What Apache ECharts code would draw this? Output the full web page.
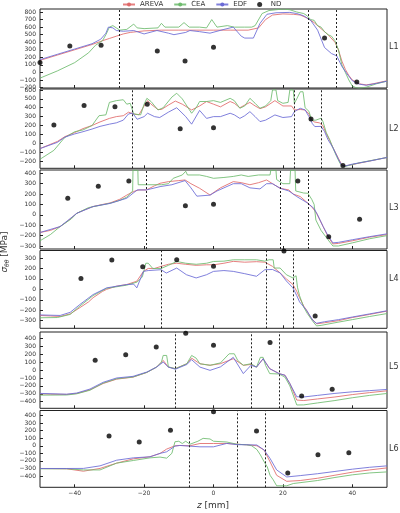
<!DOCTYPE html>
<html>
<head>
<meta charset="utf-8">
<script src="https://cdn.jsdelivr.net/npm/echarts@6/dist/echarts.min.js"></script>
<style>
html, body { margin: 0; padding: 0; background: #fff; }
#chart { width: 400px; height: 513px; }
</style>
</head>
<body>
<div id="chart"></div>
<script>
// z [mm] ticks shared by all panels
const Z_TICKS = [-40, -20, 0, 20, 40];

// ---- L1 ----
const L1_AREVA = [[-50,160],[-45,230],[-40,300],[-35,370],[-32,420],[-30,450],[-28,480],[-26,510],[-24,530],[-20,550],[-15,560],[-10,560],[-5,560],[0,560],[5,560],[10,560],[13,590],[15,700],[17,760],[20,775],[23,770],[25,760],[27,720],[29,660],[31,580],[33,500],[35,400],[36,300],[37,150],[38,40],[39,-40],[40,-100],[42,-150],[44,-165],[46,-150],[50,-110]];
const L1_CEA = [[-50,-75],[-45,20],[-40,130],[-36,260],[-34,360],[-32,420],[-31,500],[-30,600],[-29,620],[-28,590],[-27,560],[-25,570],[-23,640],[-22,590],[-20,580],[-16,590],[-15,650],[-14,600],[-10,600],[-8.5,660],[-7,600],[-4,600],[-2,590],[-0.5,700],[1,600],[4,620],[6,600],[9,600],[11,600],[12,620],[14,780],[16,820],[18,830],[20,840],[22,830],[24,800],[26,780],[27,750],[28,700],[29,690],[30,620],[31,600],[32,540],[33,500],[34,480],[35,420],[36,300],[37,100],[38,0],[39,-100],[40,-180],[41,-200],[42,-210],[44,-195],[47,-150],[50,-115]];
const L1_EDF = [[-50,170],[-45,240],[-40,310],[-35,380],[-32.5,440],[-31,520],[-30.3,600],[-29,590],[-28,555],[-26,545],[-23,555],[-20,510],[-16.3,555],[-13,520],[-11.4,500],[-8,530],[-6.8,555],[-4,540],[-1,520],[3,570],[5.7,600],[8,480],[9,455],[11.5,455],[13.4,650],[15.4,770],[18,790],[22,795],[24,780],[26,750],[28,690],[30,560],[32,330],[34,250],[35.5,220],[37,80],[38.5,-20],[40,-110],[42,-155],[44,-170],[47,-145],[50,-115]];
const L1_ND = [[-50,130],[-41.4,350],[-32.4,360],[-16.2,283],[-8.2,150],[0,335],[32,455],[41.3,-125]];
const L1_MARKS = [-27.3, 27.3, 35.3];
const L1_TICKS = [-200, -100, 0, 100, 200, 300, 400, 500, 600, 700, 800];

// ---- L2 ----
const L2_AREVA = [[-50,-60],[-45,20],[-42.8,75],[-40,120],[-37.6,165],[-35,200],[-32.7,240],[-30,280],[-28,300],[-26,310],[-24.5,350],[-23,330],[-21.5,320],[-20,420],[-19,480],[-18,440],[-16,380],[-15,380],[-13,430],[-11,475],[-9,440],[-6.3,375],[-4,420],[-2,470],[0,440],[2,410],[4.8,470],[6,450],[7.6,400],[9,430],[10.5,460],[12,420],[13.4,390],[15,410],[17.7,480],[20,420],[22.5,420],[23.3,375],[25,380],[26.4,375],[27.5,330],[28,280],[29,240],[30.5,230],[31.5,200],[32.5,110],[33.5,30],[34.5,-55],[36,-170],[37,-245],[38,-255],[40,-240],[45,-200],[50,-160]];
const L2_CEA = [[-50,-180],[-46,-80],[-43,60],[-40,130],[-37.6,150],[-35,200],[-33,310],[-31,320],[-30,460],[-28,480],[-26,490],[-25,440],[-24,450],[-23,330],[-21,320],[-20,440],[-19.2,506],[-18,470],[-16,375],[-14.5,400],[-12,520],[-10.6,563],[-9,500],[-7,380],[-6.3,338],[-5,400],[-4,470],[-2,470],[0,480],[2,460],[4.8,506],[6,480],[7.6,394],[9,420],[10.5,506],[12,450],[13.4,394],[15,420],[16.5,480],[17,600],[18,600],[18.5,480],[20,450],[21.5,460],[22,600],[23,600],[23.3,450],[24,500],[25,580],[25.8,580],[26.4,400],[27.5,360],[28.3,260],[29.5,260],[31,282],[31.5,250],[32.5,120],[33.5,40],[34.5,-60],[35.5,-150],[36.5,-230],[37.5,-265],[39,-250],[42,-220],[46,-190],[50,-160]];
const L2_EDF = [[-50,-60],[-45,10],[-42.8,70],[-40,105],[-37.6,130],[-35,160],[-32.7,190],[-30,215],[-28,230],[-26,260],[-24.5,330],[-23.3,340],[-22,270],[-20,300],[-19,338],[-17,300],[-15.5,290],[-13,350],[-10.6,400],[-8,300],[-6.3,215],[-4,370],[-2,280],[0,300],[2,300],[4.8,338],[6,320],[7.6,280],[9,310],[10.5,356],[12,300],[13.4,244],[15,260],[17.7,319],[20,290],[22.5,300],[23.3,356],[25,394],[26.4,375],[27.5,300],[28.5,220],[29.2,188],[31,190],[32,132],[33,40],[34.5,-55],[36,-180],[37,-250],[38,-255],[40,-235],[45,-200],[50,-160]];
const L2_ND = [[-46,207],[-37.3,424],[-28.4,412],[-19.1,439],[-9.6,162],[0,176],[28.1,274],[37.3,-250]];
const L2_MARKS = [-23.3, 23.3, 31.1];
const L2_TICKS = [-200, -100, 0, 100, 200, 300, 400, 500, 600];

// ---- L3 ----
const L3_AREVA = [[-50,-170],[-47,-150],[-44.2,-113],[-42,-60],[-39.4,15],[-37,50],[-34.7,80],[-32,100],[-29.8,115],[-27,150],[-25,190],[-23,225],[-21.5,240],[-19.3,240],[-17,280],[-15.4,304],[-13,320],[-10,330],[-8.2,336],[-6.5,300],[-4,256],[-1,191],[2,260],[5.7,320],[8,310],[10.5,290],[13,310],[15.3,336],[17,300],[19.2,256],[21.7,240],[23,200],[25,176],[27.2,112],[28.5,70],[29.7,15],[31.6,-113],[33,-210],[34.4,-280],[36,-275],[40,-250],[45,-215],[50,-190]];
const L3_CEA = [[-50,-250],[-47,-190],[-44.2,-113],[-41,-40],[-39.4,15],[-36,70],[-33,90],[-29.8,112],[-27,140],[-25,170],[-23.3,230],[-23.2,430],[-21.8,430],[-21.7,290],[-19,290],[-15,290],[-13,300],[-11.6,352],[-9,384],[-8,420],[-7.5,384],[-4,384],[-2,370],[0,352],[3,360],[5.7,370],[8,384],[10,370],[13,384],[16.3,384],[16.5,430],[18,430],[18.2,340],[20,300],[22,300],[22.2,430],[23.5,430],[23.7,230],[26,210],[27.2,208],[28.3,150],[29,100],[29.5,-50],[31,-150],[33,-240],[34.4,-300],[36,-300],[40,-270],[45,-230],[50,-200]];
const L3_EDF = [[-50,-170],[-44.2,-113],[-39.4,15],[-34.7,80],[-29.8,110],[-25,160],[-22,240],[-19.3,240],[-15.4,272],[-12,290],[-8.2,330],[-6.5,260],[-4.8,180],[-1,190],[1,230],[5.7,300],[8,300],[10.5,260],[13.4,250],[15.3,300],[17,300],[19.2,256],[21.7,230],[24,176],[27.2,112],[29,60],[30,0],[31.6,-113],[33,-200],[34.4,-270],[36,-265],[40,-240],[45,-210],[50,-183]];
const L3_ND = [[-42,160],[-33.2,275],[-24.4,326],[-8.1,88],[0,103],[24.3,326],[33.2,-210],[42.1,-42]];
const L3_MARKS = [-19.3, 19.3, 27.2];
const L3_TICKS = [-300, -200, -100, 0, 100, 200, 300, 400];

// ---- L4 ----
const L4_AREVA = [[-50,-250],[-47,-255],[-44.2,-260],[-41.3,-235],[-38.5,-175],[-36,-120],[-34.7,-80],[-32,-20],[-30.8,0],[-28,30],[-25,46],[-22.1,78],[-20.2,172],[-18.8,200],[-17,200],[-15.1,220],[-13,240],[-10.6,250],[-8,240],[-5,230],[-2,235],[0,235],[3,250],[5.7,268],[9,260],[12.4,265],[14.8,260],[17,220],[19.2,157],[21,100],[22.9,46],[24,-20],[24.8,-80],[26,-160],[26.8,-200],[28,-270],[29.7,-330],[32,-320],[36,-300],[40,-270],[45,-240],[50,-208]];
const L4_CEA = [[-50,-272],[-45,-270],[-41.3,-240],[-38.5,-160],[-34.7,-60],[-30.8,10],[-25,40],[-22,70],[-20.5,120],[-19.5,250],[-18.8,250],[-17.5,200],[-15.1,200],[-13,230],[-10.6,267],[-8,250],[-5,240],[-2,250],[0,267],[3,270],[5.7,283],[9,283],[12.4,283],[14.8,270],[16,283],[17.2,283],[17.5,204],[19.2,204],[21,140],[22.9,109],[23.8,130],[24.2,20],[24.8,-60],[26,-170],[27,-230],[28.7,-310],[29.7,-350],[31,-345],[35,-320],[40,-290],[45,-260],[50,-232]];
const L4_EDF = [[-50,-245],[-44.2,-250],[-41.3,-220],[-38.5,-145],[-34.7,-50],[-30.8,14],[-25,46],[-23,50],[-22.1,14],[-20.2,172],[-18.8,180],[-15.1,188],[-13.6,156],[-10.6,204],[-7.8,140],[-5,109],[-2,140],[0,172],[3,180],[5.7,172],[9,150],[12.4,125],[14.8,188],[17,190],[19.2,157],[21,80],[22.9,14],[24,-60],[24.8,-120],[26.8,-200],[28.7,-300],[29.7,-325],[32,-310],[36,-290],[40,-265],[45,-235],[50,-205]];
const L4_ND = [[-38.2,103],[-29.3,281],[-20.4,217],[-10.6,284],[0,220],[20.3,368],[29.3,-256]];
const L4_MARKS = [-15.1, 15.1, 23];
const L4_TICKS = [-300, -200, -100, 0, 100, 200, 300];

// ---- L5 ----
const L5_AREVA = [[-50,-300],[-47,-305],[-42.3,-308],[-39.4,-296],[-35.6,-250],[-31.8,-170],[-27.9,-115],[-23.2,-90],[-19.2,-30],[-16.4,37],[-14.5,121],[-13,37],[-11,17],[-7.7,79],[-6.3,150],[-3.9,79],[-1,60],[2,80],[5.7,142],[8.6,60],[10.8,70],[12.4,37],[14.3,142],[16.2,17],[18.9,-45],[20.6,-66],[22,-170],[24,-379],[26,-385],[30,-365],[35,-340],[40,-310],[45,-285],[50,-262]];
const L5_CEA = [[-50,-317],[-42.3,-315],[-39.4,-300],[-35.6,-255],[-31.8,-165],[-27.9,-110],[-23.2,-88],[-19.2,-30],[-16.4,37],[-15,100],[-14.5,184],[-13.5,184],[-13,40],[-11,17],[-7.7,79],[-6.3,184],[-5,150],[-3.9,79],[-1,60],[2,90],[4.5,205],[6,205],[7,120],[8.6,60],[10.8,80],[12.4,37],[13.5,160],[14.3,160],[15,60],[16.2,-45],[18.9,-50],[20.6,-90],[22,-200],[24,-441],[26,-440],[30,-415],[35,-385],[40,-350],[45,-320],[50,-296]];
const L5_EDF = [[-50,-295],[-42.3,-305],[-39.4,-290],[-35.6,-240],[-31.8,-155],[-27.9,-100],[-23.2,-80],[-19.2,-25],[-16.4,37],[-14.5,100],[-13,37],[-11,10],[-7.7,70],[-6.3,130],[-3.9,37],[-1,-4],[2,40],[5.7,160],[8.6,-45],[10.8,60],[12.4,37],[14.3,142],[16.2,17],[18.9,-45],[20.6,-66],[22,-170],[24,-337],[26,-340],[30,-320],[35,-295],[40,-275],[45,-260],[50,-245]];
const L5_ND = [[-34.1,125],[-25.3,192],[-16.5,292],[-8,465],[0,312],[16.3,346],[25.4,-329],[34.2,-241]];
const L5_MARKS = [-11, 10.9, 18.9];
const L5_TICKS = [-400, -300, -200, -100, 0, 100, 200, 300, 400];

// ---- L6 ----
const L6_AREVA = [[-50,-301],[-42.3,-305],[-37.5,-337],[-32.7,-300],[-27.9,-230],[-23.1,-173],[-18.3,-146],[-15.4,-101],[-13.5,-44],[-11.1,0],[-9.7,4],[-6.8,0],[-3.9,30],[0,30],[3.8,31],[6.8,20],[9.6,13],[12.5,0],[14.6,-57],[16.3,-213],[18.2,-391],[21.1,-471],[25,-460],[30,-430],[35,-390],[40,-350],[45,-320],[50,-293]];
const L6_CEA = [[-50,-305],[-42.3,-305],[-37.5,-320],[-32.7,-320],[-27.9,-230],[-23.1,-195],[-18.3,-160],[-15.4,-150],[-13.5,-164],[-12,-100],[-11.1,53],[-10,60],[-9,30],[-8,60],[-6.8,20],[-4.5,60],[-3,98],[-1,90],[0,60],[3.8,50],[6.8,20],[9.6,13],[11,0],[12.5,-50],[13.5,-120],[14.6,-213],[15.5,-280],[16.3,-391],[17.2,-450],[18.2,-530],[21.1,-530],[23,-500],[30,-460],[35,-420],[40,-385],[45,-360],[50,-346]];
const L6_EDF = [[-50,-301],[-42.3,-301],[-37.5,-300],[-32.7,-266],[-27.9,-191],[-23.1,-160],[-18.3,-146],[-15.4,-101],[-13.5,-80],[-11.1,-5],[-9.7,4],[-6.8,-5],[-3.9,-14],[0,-14],[3.8,31],[6.8,15],[9.6,13],[12.5,10],[14.6,-57],[16.3,-168],[18.2,-320],[21.1,-413],[25,-395],[30,-370],[35,-340],[40,-310],[45,-285],[50,-266]];
const L6_ND = [[-30.1,129],[-21.4,49],[-12.4,205],[0,452],[12.4,196],[21.4,-360],[30.1,-119],[39,-93]];
const L6_MARKS = [-6.9, 6.9, 14.8];
const L6_TICKS = [-400, -300, -200, -100, 0, 100, 200, 300, 400];

const PANEL_NAMES = ['L1', 'L2', 'L3', 'L4', 'L5', 'L6'];
const AREVA = [L1_AREVA, L2_AREVA, L3_AREVA, L4_AREVA, L5_AREVA, L6_AREVA];
const CEA = [L1_CEA, L2_CEA, L3_CEA, L4_CEA, L5_CEA, L6_CEA];
const EDF = [L1_EDF, L2_EDF, L3_EDF, L4_EDF, L5_EDF, L6_EDF];
const ND = [L1_ND, L2_ND, L3_ND, L4_ND, L5_ND, L6_ND];
const MARKS = [L1_MARKS, L2_MARKS, L3_MARKS, L4_MARKS, L5_MARKS, L6_MARKS];
const TICKS = [L1_TICKS, L2_TICKS, L3_TICKS, L4_TICKS, L5_TICKS, L6_TICKS];

// layout (pixels) and axis ranges of each panel
const Y_MIN = [-206, -282, -329, -373, -483, -550];
const Y_MAX = [840, 611, 432, 372, 480, 467];
const G_TOP = [9, 89, 170, 250.5, 332, 410.5];
const G_BOT = [88, 168.3, 249, 328.3, 408.3, 487.3];
const LABEL_Y = [48, 130, 209, 280, 368, 450];

const FONT = 'DejaVu Sans';
const C_AREVA = '#e06a6a', C_CEA = '#6dbb6d', C_EDF = '#6a6ad6';
const minus = v => String(v).replace('-', '\u2212');

let chart = echarts.init(document.getElementById('chart'), null, {renderer: 'canvas'});

let grids = [], xAxes = [], yAxes = [], series = [], graphics = [];
for (let i = 0; i < 6; i++) {
  grids.push({
    left: 40, right: 13, top: G_TOP[i], height: G_BOT[i] - G_TOP[i],
    show: true, borderColor: '#222', borderWidth: 1, backgroundColor: '#fff'
  });
  xAxes.push({
    type: 'value', gridIndex: i, min: -50, max: 50, position: 'bottom',
    axisLine: {show: false, onZero: false}, splitLine: {show: false},
    axisTick: {show: true, inside: true, length: 3, customValues: Z_TICKS, lineStyle: {color: '#222'}},
    axisLabel: {show: i === 5, customValues: Z_TICKS, fontSize: 6, fontFamily: FONT, color: '#333', margin: 3, formatter: minus}
  });
  yAxes.push({
    type: 'value', gridIndex: i, min: Y_MIN[i], max: Y_MAX[i], position: 'left',
    axisLine: {show: false, onZero: false}, splitLine: {show: false},
    axisTick: {show: true, inside: true, length: 3, customValues: TICKS[i], lineStyle: {color: '#222'}},
    axisLabel: {customValues: TICKS[i], fontSize: 6, fontFamily: FONT, color: '#333', margin: 4, formatter: minus}
  });
  const line = (name, data, color) => ({
    name, type: 'line', xAxisIndex: i, yAxisIndex: i, data,
    symbol: 'none', itemStyle: {color},
    lineStyle: {color, width: 1, opacity: 0.85}
  });
  series.push(line('AREVA', AREVA[i], C_AREVA));
  series.push(line('CEA', CEA[i], C_CEA));
  series.push(line('EDF', EDF[i], C_EDF));
  series.push({
    name: 'ND', type: 'scatter', xAxisIndex: i, yAxisIndex: i, data: ND[i],
    symbolSize: 5, itemStyle: {color: '#000'}, clip: false, z: 5,
    markLine: {
      silent: true, symbol: 'none', label: {show: false},
      lineStyle: {color: '#222', type: [2, 2], width: 1},
      data: MARKS[i].map(z => ({xAxis: z}))
    }
  });
  graphics.push({
    type: 'text', left: 389, top: LABEL_Y[i] - 5,
    style: {text: PANEL_NAMES[i], font: '8px ' + FONT, fill: '#333'}
  });
}

graphics.push({
  type: 'text', x: 5, y: 252, rotation: Math.PI / 2,
  style: {
    text: '{s|σ}{b|θθ}{n| [MPa]}', align: 'center', verticalAlign: 'middle',
    rich: {
      s: {fontSize: 9, fontFamily: FONT, fill: '#333', fontStyle: 'italic'},
      b: {fontSize: 6, fontFamily: FONT, fill: '#333', fontStyle: 'italic', padding: [5, 0, 0, 0]},
      n: {fontSize: 9, fontFamily: FONT, fill: '#333'}
    }
  }
});
graphics.push({
  type: 'text', x: 213, y: 506,
  style: {
    text: '{i|z}{n| [mm]}', align: 'center', verticalAlign: 'middle',
    rich: {
      i: {fontSize: 9, fontFamily: FONT, fill: '#333', fontStyle: 'italic'},
      n: {fontSize: 9, fontFamily: FONT, fill: '#333'}
    }
  }
});

chart.setOption({
  animation: false,
  backgroundColor: '#fff',
  legend: {
    data: ['AREVA', 'CEA', 'EDF', 'ND'],
    left: 117, top: -4, itemWidth: 12, itemHeight: 5, itemGap: 10,
    textStyle: {fontSize: 7, fontFamily: FONT, color: '#333'}
  },
  grid: grids,
  xAxis: xAxes,
  yAxis: yAxes,
  series: series,
  graphic: graphics
});
</script>
</body>
</html>
